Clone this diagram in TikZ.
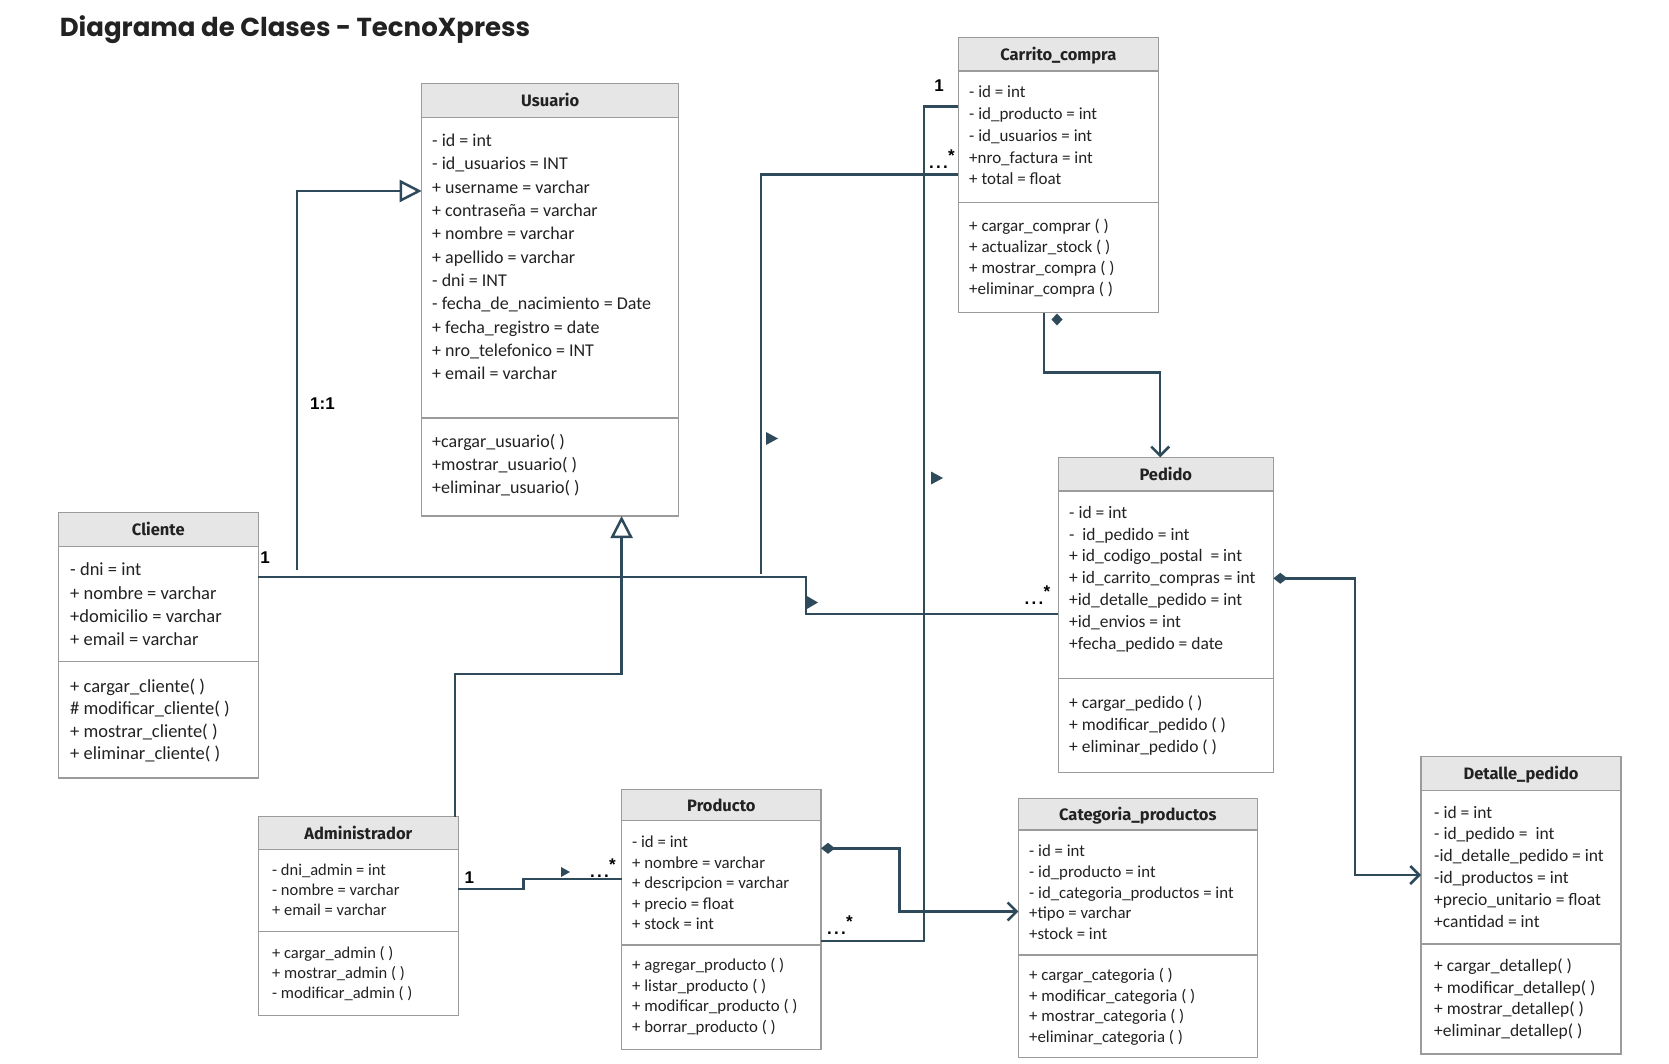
\documentclass[tikz,border=0pt]{standalone}
\usepackage{fontspec}
\setmainfont{Carlito}
\newfontfamily\hfont{Fira Sans}
\newfontfamily\tfont{Poppins}
\newfontfamily\lfont{Liberation Sans}
\usetikzlibrary{arrows.meta,calc}
\definecolor{lnc}{HTML}{2F4A5B}
\definecolor{hdrgray}{HTML}{E6E6E6}
\definecolor{bordgray}{HTML}{9B9B9B}
\definecolor{txt}{HTML}{222222}
\newcommand\mlt{.\kern2.2pt.\kern2.2pt.\kern0.5pt\raisebox{7pt}{*}}
\tikzset{
  cbox/.style={draw=bordgray, line width=1.5pt, inner sep=0pt, outer sep=0pt, anchor=north west},
  sepl/.style={draw=bordgray, line width=1.5pt},
  htext/.style={font=\hfont\bfseries\fontsize{16.5}{20}\selectfont, text=txt, inner sep=0pt, anchor=base},
  atext/.style={align=left, anchor=north west, inner sep=0pt, text=txt},
  cn/.style={draw=lnc, line width=2.5pt},
  gen/.style={-{Triangle[open,length=22pt,width=22pt,fill=white]}},
  barb/.style={-{Straight Barb[length=9pt,width=18pt]}},
  dbarb/.style={{Diamond[length=14pt,width=11pt]}-{Straight Barb[length=9pt,width=18pt]}},
  lab/.style={font=\lfont\bfseries\fontsize{17}{20}\selectfont, text=black, inner sep=0pt},
  mk/.style={fill=lnc},
}
\begin{document}
\begin{tikzpicture}[x=1pt,y=-1pt]
\useasboundingbox (0,0) rectangle (1669,1064);
\fill[white] (0,0) rectangle (1669,1064);

\node[font=\tfont\bfseries\fontsize{26}{30}\selectfont, anchor=base west, text=txt, inner sep=0pt] (title) at (59.6,37) {Diagrama de Clases - TecnoXpress};

% ---------- Usuario
\fill[hdrgray] (421.7,83.5) rectangle (678.7,117.7);
\node[cbox, minimum width=257pt, minimum height=432.5pt] (usu) at (421.7,83.5) {};
\draw[sepl] (usu.west |- 0,117.7) -- (usu.east |- 0,117.7);
\draw[sepl] (usu.west |- 0,418) -- (usu.east |- 0,418);
\node[htext] (usuH) at (550.2,106.6) {Usuario};
\node[atext, font=\fontsize{18}{23.3}\selectfont] (usuA) at (432,130.1) {\strut - id = int\\\strut - id\_usuarios = INT\\\strut + username = varchar\\\strut + contraseña = varchar\\\strut + nombre = varchar\\\strut + apellido = varchar\\\strut - dni = INT\\\strut - fecha\_de\_nacimiento = Date\\\strut + fecha\_registro = date\\\strut + nro\_telefonico = INT\\\strut + email = varchar};
\node[atext, font=\fontsize{18}{23.3}\selectfont] (usuM) at (432,430.8) {\strut +cargar\_usuario( )\\\strut +mostrar\_usuario( )\\\strut +eliminar\_usuario( )};

% ---------- Carrito_compra
\fill[hdrgray] (958.3,37.3) rectangle (1158.3,71);
\node[cbox, minimum width=200pt, minimum height=275.4pt] (car) at (958.3,37.3) {};
\draw[sepl] (car.west |- 0,71) -- (car.east |- 0,71);
\draw[sepl] (car.west |- 0,202.7) -- (car.east |- 0,202.7);
\node[htext] (carH) at (1058.3,60.2) {Carrito\_compra};
\node[atext, font=\fontsize{17}{21.7}\selectfont] (carA) at (969,82.6) {\strut - id = int\\\strut - id\_producto = int\\\strut - id\_usuarios = int\\\strut +nro\_factura = int\\\strut + total = float};
\node[atext, font=\fontsize{17}{21.1}\selectfont] (carM) at (969,216.3) {\strut + cargar\_comprar ( )\\\strut + actualizar\_stock ( )\\\strut + mostrar\_compra ( )\\\strut +eliminar\_compra ( )};

% ---------- Cliente
\fill[hdrgray] (58.3,512.3) rectangle (258.3,546.7);
\node[cbox, minimum width=200pt, minimum height=265.7pt] (cli) at (58.3,512.3) {};
\draw[sepl] (cli.west |- 0,546.7) -- (cli.east |- 0,546.7);
\draw[sepl] (cli.west |- 0,661.7) -- (cli.east |- 0,661.7);
\node[htext] (cliH) at (158.3,535.5) {Cliente};
\node[atext, font=\fontsize{18.5}{23.3}\selectfont] (cliA) at (70,559.2) {\strut - dni = int\\\strut + nombre = varchar\\\strut +domicilio = varchar\\\strut + email = varchar};
\node[atext, font=\fontsize{18.5}{22.5}\selectfont] (cliM) at (70,676.5) {\strut + cargar\_cliente( )\\\strut \# modificar\_cliente( )\\\strut + mostrar\_cliente( )\\\strut + eliminar\_cliente( )};

% ---------- Administrador
\fill[hdrgray] (258.3,816.7) rectangle (458.3,849.3);
\node[cbox, minimum width=200pt, minimum height=198.7pt] (adm) at (258.3,816.7) {};
\draw[sepl] (adm.west |- 0,849.3) -- (adm.east |- 0,849.3);
\draw[sepl] (adm.west |- 0,931.7) -- (adm.east |- 0,931.7);
\node[htext] (admH) at (358.3,839) {Administrador};
\node[atext, font=\fontsize{16.5}{19.8}\selectfont] (admA) at (272,861.8) {\strut - dni\_admin = int\\\strut - nombre = varchar\\\strut + email = varchar};
\node[atext, font=\fontsize{16.5}{20}\selectfont] (admM) at (272,944.3) {\strut + cargar\_admin ( )\\\strut + mostrar\_admin ( )\\\strut - modificar\_admin ( )};

% ---------- Producto
\fill[hdrgray] (621.7,789.3) rectangle (821,820.7);
\node[cbox, minimum width=199.3pt, minimum height=260pt] (pro) at (621.7,789.3) {};
\draw[sepl] (pro.west |- 0,820.7) -- (pro.east |- 0,820.7);
\draw[sepl] (pro.west |- 0,945) -- (pro.east |- 0,945);
\node[htext] (proH) at (721.35,811) {Producto};
\node[atext, font=\fontsize{16.8}{20.4}\selectfont] (proA) at (632,833.5) {\strut - id = int\\\strut + nombre = varchar\\\strut + descripcion = varchar\\\strut + precio = float\\\strut + stock = int};
\node[atext, font=\fontsize{16.8}{20.8}\selectfont] (proM) at (632,955.5) {\strut + agregar\_producto ( )\\\strut + listar\_producto ( )\\\strut + modificar\_producto ( )\\\strut + borrar\_producto ( )};

% ---------- Categoria_productos
\fill[hdrgray] (1018.3,798.3) rectangle (1257.3,830);
\node[cbox, minimum width=239pt, minimum height=259pt] (cat) at (1018.3,798.3) {};
\draw[sepl] (cat.west |- 0,830) -- (cat.east |- 0,830);
\draw[sepl] (cat.west |- 0,955) -- (cat.east |- 0,955);
\node[htext] (catH) at (1137.8,820.2) {Categoria\_productos};
\node[atext, font=\fontsize{16.8}{20.6}\selectfont] (catA) at (1029,842.3) {\strut - id = int\\\strut - id\_producto = int\\\strut - id\_categoria\_productos = int\\\strut +tipo = varchar\\\strut +stock = int};
\node[atext, font=\fontsize{16.8}{20.8}\selectfont] (catM) at (1029,965.5) {\strut + cargar\_categoria ( )\\\strut + modificar\_categoria ( )\\\strut + mostrar\_categoria ( )\\\strut +eliminar\_categoria ( )};

% ---------- Pedido
\fill[hdrgray] (1058.3,457.3) rectangle (1273.3,491);
\node[cbox, minimum width=215pt, minimum height=315.4pt] (ped) at (1058.3,457.3) {};
\draw[sepl] (ped.west |- 0,491) -- (ped.east |- 0,491);
\draw[sepl] (ped.west |- 0,678.3) -- (ped.east |- 0,678.3);
\node[htext] (pedH) at (1165.8,480.2) {Pedido};
\node[atext, font=\fontsize{17.5}{21.9}\selectfont] (pedA) at (1069,502.6) {\strut - id = int\\\strut -\ \ id\_pedido = int\\\strut + id\_codigo\_postal \ = int\\\strut + id\_carrito\_compras = int\\\strut +id\_detalle\_pedido = int\\\strut +id\_envios = int\\\strut +fecha\_pedido = date};
\node[atext, font=\fontsize{17.5}{21.7}\selectfont] (pedM) at (1069,693.4) {\strut + cargar\_pedido ( )\\\strut + modificar\_pedido ( )\\\strut + eliminar\_pedido ( )};

% ---------- Detalle_pedido
\fill[hdrgray] (1421,756.5) rectangle (1621,790.7);
\node[cbox, minimum width=200pt, minimum height=297.3pt] (det) at (1421,756.5) {};
\draw[sepl] (det.west |- 0,790.7) -- (det.east |- 0,790.7);
\draw[sepl] (det.west |- 0,944) -- (det.east |- 0,944);
\node[htext] (detH) at (1521,779.6) {Detalle\_pedido};
\node[atext, font=\fontsize{17.5}{21.8}\selectfont] (detA) at (1434,802.7) {\strut - id = int\\\strut - id\_pedido = \ int\\\strut -id\_detalle\_pedido = int\\\strut -id\_productos = int\\\strut +precio\_unitario = float\\\strut +cantidad = int};
\node[atext, font=\fontsize{17.5}{21.6}\selectfont] (detM) at (1434,956.1) {\strut + cargar\_detallep( )\\\strut + modificar\_detallep( )\\\strut + mostrar\_detallep( )\\\strut +eliminar\_detallep( )};

% ---------- Connectors
\coordinate (c1s) at (297,570);
\draw[cn, gen] (c1s) |- (usu.west |- 0,191);

\coordinate (k1) at (806,614);
\draw[cn] (cli.east |- 0,577) -| (k1) -- (ped.west |- k1);
\fill[mk] (806,595.5) -- (818,602.5) -- (806,609.5) -- cycle;

\coordinate (c3s) at (761,574);
\draw[cn] (c3s) |- (car.west |- 0,174.6);
\fill[mk] (766,432) -- (778,438.5) -- (766,445) -- cycle;

\coordinate (k2) at (924,941);
\draw[cn] (car.west |- 0,106.4) -| (k2) -- (pro.east |- k2);
\fill[mk] (931,471.5) -- (943,478) -- (931,484.5) -- cycle;

\coordinate (k3) at (1160.2,372.5);
\draw[cn, barb] (car.south -| 1044.2,0) |- (k3) -- (ped.north -| k3);
\fill[mk] (1057,313.5) -- (1062.5,319.5) -- (1057,325.5) -- (1051.5,319.5) -- cycle;

\coordinate (k4) at (1355,875);
\draw[cn, dbarb] (ped.east |- 0,578.3) -| (k4) -- (det.west |- k4);

\coordinate (k5) at (621.6,673.8);
\draw[cn, gen] (adm.north -| 455,0) |- (k5) -- (usu.south -| k5);

\coordinate (k6) at (523.7,879);
\draw[cn] (adm.east |- 0,889) -| (k6) -- (pro.west |- k6);
\fill[mk] (561,867) -- (570,872) -- (561,877) -- cycle;

\coordinate (k7) at (899.4,911.5);
\draw[cn, dbarb] (pro.east |- 0,848.3) -| (k7) -- (cat.west |- k7);

% ---------- Labels
\node[lab] (l11) at (322.5,403.4) {1:1};
\node[lab] (l1a) at (265,558) {1};
\node[lab] (l1b) at (939,86) {1};
\node[lab] (l1c) at (469.4,878) {1};
\node[lab, anchor=base] (m1) at (942,169) {\mlt};
\node[lab, anchor=base] (m2) at (1037.5,604) {\mlt};
\node[lab, anchor=base] (m3) at (840,934.5) {\mlt};
\node[lab, anchor=base] (m4) at (603,877) {\mlt};
\end{tikzpicture}
\end{document}
